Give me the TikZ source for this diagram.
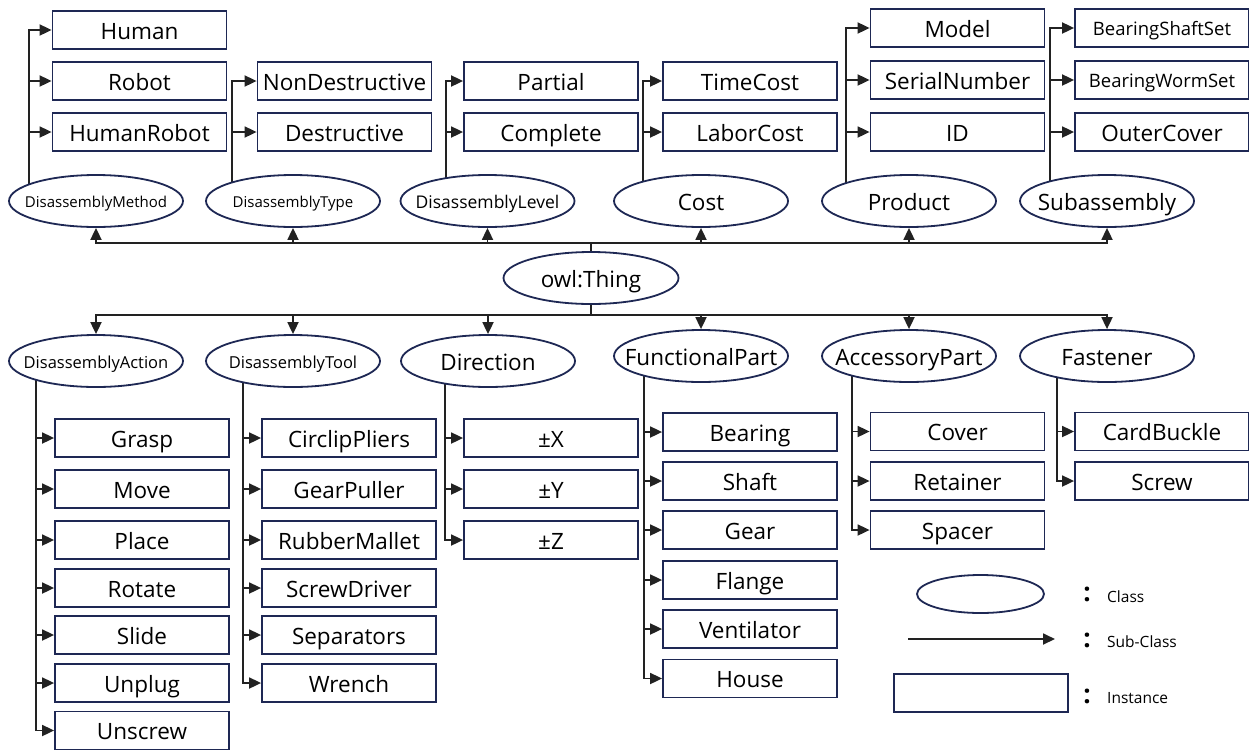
\documentclass[tikz,border=0pt]{standalone}
\usepackage{fontspec}
\setmainfont{Open Sans}
\usetikzlibrary{arrows.meta,shapes.geometric,calc}
\pgfdeclarelayer{background}
\pgfsetlayers{background,main}
\definecolor{edgeblue}{RGB}{30,40,84}
\definecolor{linegray}{RGB}{34,34,34}
\newcommand\fsBig{\fontsize{22.5}{27}\selectfont}
\newcommand\fsMid{\fontsize{18.5}{22}\selectfont}
\newcommand\fsSmall{\fontsize{15.5}{19}\selectfont}
\newcommand\fsTiny{\fontsize{15}{19}\selectfont}
\newcommand\lbl[1]{\makebox[0pt][c]{#1}}
\begin{document}
\begin{tikzpicture}[x=1pt,y=-1pt,
  inst/.style={draw=edgeblue,line width=1.8pt,fill=white,rectangle,
    minimum width=174pt,minimum height=38pt,inner sep=0pt,font=\fsBig,
    text height=22pt,text depth=4pt},
  cls/.style={draw=edgeblue,line width=1.8pt,fill=white,ellipse,
    minimum width=174pt,minimum height=52pt,inner sep=0pt,font=\fsBig,
    text height=22pt,text depth=4pt},
  smalltext/.style={text height=15pt,text depth=2.3pt},
  midtext/.style={text height=16pt,text depth=2pt},
  link/.style={draw=linegray,line width=1.8pt},
  arr/.style={link,-{Triangle[length=12pt,width=11pt]}},
]
\useasboundingbox (0,0) rectangle (1249,750);

% ---------- root ----------
\node[cls,minimum width=175pt] (owl) at (591,278) {owl:Thing};
\coordinate (busT) at (591,243);
\coordinate (busB) at (591,315);

% ---------- upper classes ----------
\node[cls,smalltext] (dmeth) at (96,201) {\fsTiny\lbl{DisassemblyMethod}};
\node[cls,smalltext] (dtype) at (293,201) {\fsTiny\lbl{DisassemblyType}};
\node[cls,midtext] (dlev) at (487.5,201) {\fontsize{17.5}{21}\selectfont\lbl{DisassemblyLevel}};
\node[cls] (cost) at (701,201) {Cost};
\node[cls] (prod) at (909,201) {Product};
\node[cls] (suba) at (1107,201) {\lbl{Subassembly}};

% ---------- upper instances ----------
\node[inst] (human) at (139.5,30) {Human};
\node[inst] (robot) at (139.5,81) {Robot};
\node[inst] (hrob) at (139.5,132) {HumanRobot};
\node[inst] (nond) at (344.5,81) {NonDestructive};
\node[inst] (dest) at (344.5,132) {Destructive};
\node[inst] (part) at (551,81) {Partial};
\node[inst] (comp) at (551,132) {Complete};
\node[inst] (tcost) at (750,81) {TimeCost};
\node[inst] (lcost) at (750,132) {LaborCost};
\node[inst] (model) at (957.5,28) {Model};
\node[inst] (serial) at (957.5,80) {SerialNumber};
\node[inst] (pid) at (957.5,132) {ID};
\node[inst,font=\fsMid,text height=17pt,text depth=3pt] (bss) at (1162,28) {BearingShaftSet};
\node[inst,font=\fsMid,text height=17pt,text depth=3pt] (bws) at (1162,80) {BearingWormSet};
\node[inst] (ocov) at (1162,132) {OuterCover};

% ---------- lower classes ----------
\node[cls,midtext] (dact) at (96,361) {\fontsize{16.5}{20}\selectfont\lbl{DisassemblyAction}};
\node[cls,midtext] (dtool) at (293,361) {\fontsize{16.5}{20}\selectfont\lbl{DisassemblyTool}};
\node[cls] (dir) at (488,361) {Direction};
\node[cls] (fpart) at (701,356) {\lbl{FunctionalPart}};
\node[cls] (apart) at (909,356) {\lbl{AccessoryPart}};
\node[cls] (fast) at (1107,356) {Fastener};

% ---------- lower instances ----------
\node[inst] (grasp) at (142,438) {Grasp};
\node[inst] (move) at (142,489) {Move};
\node[inst] (place) at (142,540) {Place};
\node[inst] (rot) at (142,588) {Rotate};
\node[inst] (slide) at (142,635) {Slide};
\node[inst] (unplug) at (142,683) {Unplug};
\node[inst] (unscr) at (142,730.5) {Unscrew};

\node[inst] (circ) at (349,438) {CirclipPliers};
\node[inst] (gpull) at (349,489) {GearPuller};
\node[inst] (rmal) at (349,540) {RubberMallet};
\node[inst] (sdrv) at (349,588) {ScrewDriver};
\node[inst] (sep) at (349,635) {Separators};
\node[inst] (wren) at (349,683) {Wrench};

\node[inst] (px) at (551,438) {±X};
\node[inst] (py) at (551,489) {±Y};
\node[inst] (pz) at (551,540) {±Z};

\node[inst] (bear) at (750,432) {Bearing};
\node[inst] (shaft) at (750,481) {Shaft};
\node[inst] (gear) at (750,530) {Gear};
\node[inst] (flan) at (750,580) {Flange};
\node[inst] (vent) at (750,629) {Ventilator};
\node[inst] (house) at (750,678.5) {House};

\node[inst] (cover) at (957.5,431.5) {Cover};
\node[inst] (ret) at (957.5,481) {Retainer};
\node[inst] (spac) at (957.5,530) {Spacer};

\node[inst] (card) at (1162,431.5) {CardBuckle};
\node[inst] (screw) at (1162,481) {Screw};

% ---------- legend ----------
\node[cls,minimum width=127pt,minimum height=38pt] (lgcls) at (980.5,594) {};
\coordinate (lgA) at (908,639);
\coordinate (lgB) at (1055,639);
\node[inst] (lginst) at (981,693) {};
\node[font=\fontsize{26}{30}\selectfont\bfseries,inner sep=0pt] (c1) at (1087,594) {:};
\node[font=\fontsize{26}{30}\selectfont\bfseries,inner sep=0pt] (c2) at (1087,640) {:};
\node[font=\fontsize{26}{30}\selectfont\bfseries,inner sep=0pt] (c3) at (1087,696) {:};
\node[font=\fsSmall,anchor=west,inner sep=0pt] (t1) at (1107,597) {Class};
\node[font=\fsSmall,anchor=west,inner sep=0pt] (t2) at (1107,642) {Sub-Class};
\node[font=\fsSmall,anchor=west,inner sep=0pt] (t3) at (1107,698) {Instance};

% ---------- connectors ----------
\begin{pgfonlayer}{background}
  % root to the two buses
  \draw[link] (owl.north) -- (busT);
  \draw[link] (owl.south) -- (busB);
  \foreach \c in {dmeth,dtype,dlev,cost,prod,suba}
    \draw[arr] (busT) -| (\c.south);
  \foreach \c in {dact,dtool,dir,fpart,apart,fast}
    \draw[arr] (busB) -| (\c.north);

  % class spines
  \coordinate (dmethL) at ($(dmeth.center)+(-67,0)$);
  \coordinate (dtypeL) at ($(dtype.center)+(-61,0)$);
  \coordinate (dlevL)  at ($(dlev.center)+(-41.5,0)$);
  \coordinate (costL)  at ($(cost.center)+(-58,0)$);
  \coordinate (prodL)  at ($(prod.center)+(-63,0)$);
  \coordinate (subaL)  at ($(suba.center)+(-57,0)$);
  \coordinate (dactL)  at ($(dact.center)+(-60,0)$);
  \coordinate (dtoolL) at ($(dtool.center)+(-50,0)$);
  \coordinate (dirL)   at ($(dir.center)+(-43,0)$);
  \coordinate (fpartL) at ($(fpart.center)+(-57,0)$);
  \coordinate (apartL) at ($(apart.center)+(-57,0)$);
  \coordinate (fastL)  at ($(fast.center)+(-50,0)$);

  \draw[arr] (dmethL) |- (human.west);
  \foreach \n in {robot,hrob} \draw[arr] (dmethL |- \n.west) -- (\n.west);
  \draw[arr] (dtypeL) |- (nond.west);
  \draw[arr] (dtypeL |- dest.west) -- (dest.west);
  \draw[arr] (dlevL) |- (part.west);
  \draw[arr] (dlevL |- comp.west) -- (comp.west);
  \draw[arr] (costL) |- (tcost.west);
  \draw[arr] (costL |- lcost.west) -- (lcost.west);
  \draw[arr] (prodL) |- (model.west);
  \foreach \n in {serial,pid} \draw[arr] (prodL |- \n.west) -- (\n.west);
  \draw[arr] (subaL) |- (bss.west);
  \foreach \n in {bws,ocov} \draw[arr] (subaL |- \n.west) -- (\n.west);

  \draw[arr] (dactL) |- (unscr.west);
  \foreach \n in {grasp,move,place,rot,slide,unplug} \draw[arr] (dactL |- \n.west) -- (\n.west);
  \draw[arr] (dtoolL) |- (wren.west);
  \foreach \n in {circ,gpull,rmal,sdrv,sep} \draw[arr] (dtoolL |- \n.west) -- (\n.west);
  \draw[arr] (dirL) |- (pz.west);
  \foreach \n in {px,py} \draw[arr] (dirL |- \n.west) -- (\n.west);
  \draw[arr] (fpartL) |- (house.west);
  \foreach \n in {bear,shaft,gear,flan,vent} \draw[arr] (fpartL |- \n.west) -- (\n.west);
  \draw[arr] (apartL) |- (spac.west);
  \foreach \n in {cover,ret} \draw[arr] (apartL |- \n.west) -- (\n.west);
  \draw[arr] (fastL) |- (screw.west);
  \draw[arr] (fastL |- card.west) -- (card.west);

  % legend arrow
  \draw[arr] (lgA) -- (lgB);
\end{pgfonlayer}
\end{tikzpicture}
\end{document}
